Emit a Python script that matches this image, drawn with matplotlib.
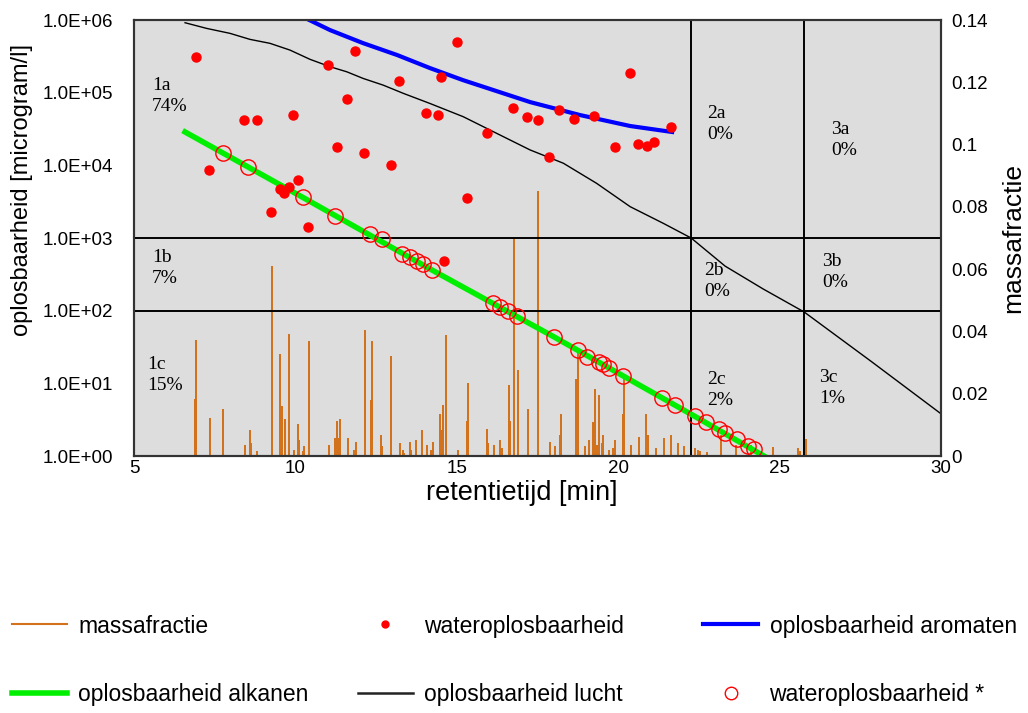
import matplotlib.pyplot as plt
from matplotlib.lines import Line2D

# massafractie: pieken in het chromatogram (retentietijd [min], fractie)
peak_time = [6.89, 6.92, 7.35, 7.76, 8.44, 8.59, 8.62, 8.81, 9.28, 9.52, 9.58, 9.68,
             9.80, 9.96, 10.08, 10.11, 10.24, 10.27, 10.42, 11.04, 11.23, 11.29, 11.32,
             11.38, 11.63, 11.82, 11.88, 12.16, 12.34, 12.37, 12.65, 12.68, 12.96, 13.24,
             13.33, 13.36, 13.55, 13.58, 13.74, 13.92, 14.08, 14.20, 14.26, 14.48, 14.51,
             14.57, 14.67, 15.04, 15.32, 15.35, 15.94, 15.97, 16.15, 16.34, 16.40, 16.62,
             16.65, 16.77, 16.90, 17.21, 17.52, 17.89, 18.04, 18.20, 18.23, 18.69, 18.75,
             18.97, 19.10, 19.22, 19.28, 19.34, 19.41, 19.50, 19.53, 19.71, 19.84, 19.90,
             20.15, 20.18, 20.40, 20.64, 20.86, 20.92, 21.17, 21.42, 21.64, 21.85, 22.04,
             22.38, 22.47, 22.53, 22.75, 23.18, 23.65, 24.11, 24.80, 25.57, 25.63, 25.82]
peak_frac = [0.018, 0.037, 0.012, 0.0148, 0.0032, 0.008, 0.0039, 0.0013, 0.0607, 0.0324,
             0.0157, 0.0116, 0.039, 0.0016, 0.010, 0.0048, 0.0013, 0.0029, 0.0366, 0.0032,
             0.0054, 0.011, 0.0054, 0.0116, 0.0054, 0.0016, 0.0042, 0.040, 0.0177, 0.0366,
             0.0064, 0.0029, 0.0318, 0.0039, 0.0016, 0.0006, 0.0042, 0.0016, 0.0048, 0.008,
             0.0032, 0.0016, 0.0042, 0.0132, 0.008, 0.0161, 0.0385, 0.0016, 0.011, 0.0231,
             0.0084, 0.0039, 0.0032, 0.0048, 0.0022, 0.0225, 0.011, 0.0694, 0.0273, 0.0148,
             0.0848, 0.0042, 0.0029, 0.0064, 0.0132, 0.0244, 0.0331, 0.0029, 0.0048, 0.0106,
             0.0212, 0.0032, 0.0193, 0.0039, 0.0064, 0.0016, 0.0022, 0.0048, 0.0132, 0.0244,
             0.0032, 0.0058, 0.0132, 0.0064, 0.0022, 0.0054, 0.0064, 0.0039, 0.0029, 0.0022,
             0.0016, 0.0012, 0.001, 0.0064, 0.0032, 0.0032, 0.0026, 0.0022, 0.0013, 0.0051]
frac_start = 6.58

# wateroplosbaarheid (gemeten)
water_time = [6.92, 7.32, 8.41, 8.81, 9.93, 9.24, 9.52, 9.65, 9.80, 10.08, 10.39, 11.01,
              11.29, 11.60, 11.85, 12.13, 12.96, 13.21, 14.05, 14.42, 14.51, 14.60, 15.01,
              15.32, 15.94, 16.74, 17.17, 17.52, 17.86, 18.17, 18.63, 19.25, 19.90, 20.37,
              20.61, 20.89, 21.11, 21.64]
water_sol = [3.1e5, 8.7e3, 4.2e4, 4.2e4, 4.9e4, 2.3e3, 4.7e3, 4.2e3, 5.0e3, 6.3e3, 1.4e3,
             2.4e5, 1.8e4, 8.1e4, 3.7e5, 1.5e4, 1.0e4, 1.45e5, 5.2e4, 4.9e4, 1.66e5, 480,
             5.0e5, 3.5e3, 2.75e4, 6.2e4, 4.6e4, 4.2e4, 1.3e4, 5.8e4, 4.4e4, 4.8e4, 1.8e4,
             1.86e5, 1.95e4, 1.86e4, 2.1e4, 3.4e4]

# wateroplosbaarheid * (alkanen)
star_time = [7.76, 8.53, 10.24, 11.23, 12.31, 12.68, 13.30, 13.55, 13.77, 13.95, 14.23,
             16.12, 16.34, 16.59, 16.86, 18.01, 18.75, 19.03, 19.41, 19.53, 19.72, 20.15,
             21.36, 21.76, 22.38, 22.72, 23.12, 23.31, 23.68, 24.02, 24.21]
star_sol = [14800, 9550, 3630, 2000, 1120, 980, 600, 550, 480, 440, 363, 129, 112, 100, 85,
            44, 29, 23, 19.5, 18.6, 16.2, 12.6, 6.3, 5.0, 3.5, 2.95, 2.34, 2.09, 1.70,
            1.38, 1.26]

# oplosbaarheid aromaten
arom_time = [10.39, 11.07, 12.09, 13.15, 14.17, 15.19, 17.27, 18.82, 20.37, 21.67]
arom_sol = [1.02e6, 7.28e5, 4.82e5, 3.30e5, 2.18e5, 1.49e5, 7.43e4, 4.92e4, 3.48e4, 2.88e4]

# oplosbaarheid alkanen
alk_time = [6.58, 10.24, 14.23, 18.01, 22.38, 24.55]
alk_sol = [2.88e4, 3.6e3, 363, 43.6, 3.5, 0.98]

# oplosbaarheid lucht
air_time = [6.58, 7.25, 7.97, 8.59, 9.21, 9.83, 10.45, 11.07, 11.59, 12.10, 12.72, 13.34,
            14.17, 15.20, 16.24, 17.27, 18.30, 19.33, 20.37, 21.40, 22.26, 23.31, 24.49,
            25.76, 27.86, 29.97]
air_sol = [9.18e5, 7.67e5, 6.56e5, 5.42e5, 4.78e5, 3.86e5, 2.88e5, 2.28e5, 1.94e5, 1.57e5,
           1.27e5, 9.8e4, 7.1e4, 4.67e4, 2.75e4, 1.63e4, 1.07e4, 5.66e3, 2.70e3, 1.59e3,
           1.0e3, 411, 199, 96, 19.7, 3.9]

# indeling in vakken
time_bounds = [22.26, 25.76]
sol_bounds = [1e3, 1e2]
region_names = ["1a", "1b", "1c", "2a", "2b", "2c", "3a", "3b", "3c"]
region_pct = ["74%", "7%", "15%", "0%", "0%", "2%", "0%", "0%", "1%"]
region_pos = [(0.022, 0.825), (0.022, 0.431), (0.016, 0.186),
              (0.710, 0.762), (0.706, 0.401), (0.710, 0.151),
              (0.864, 0.725), (0.853, 0.422), (0.849, 0.156)]

x_ticks = [5, 10, 15, 20, 25, 30]
y_ticks = [1, 10, 100, 1e3, 1e4, 1e5, 1e6]
y_labels = ["1.0E+00", "1.0E+01", "1.0E+02", "1.0E+03", "1.0E+04", "1.0E+05", "1.0E+06"]
frac_ticks = [0, 0.02, 0.04, 0.06, 0.08, 0.1, 0.12, 0.14]
frac_labels = ["0", "0.02", "0.04", "0.06", "0.08", "0.1", "0.12", "0.14"]

plt.rcParams["font.family"] = ["Liberation Sans", "DejaVu Sans"]

fig = plt.figure(figsize=(10.28, 7.13), dpi=100)
ax2 = fig.add_axes([0.1304, 0.3604, 0.785, 0.6115])
ax = ax2.twinx()
ax.yaxis.tick_left()
ax.yaxis.set_label_position("left")
ax2.yaxis.tick_right()
ax2.yaxis.set_label_position("right")
ax.patch.set_visible(False)
ax2.set_facecolor("#DDDDDD")

# massafractie als lijn met pieken
mx = [frac_start]
my = [0]
for t, f in zip(peak_time, peak_frac):
    mx += [t, t, t]
    my += [0, f, 0]
ax2.plot(mx, my, color="#D2721C", lw=1.2)
ax2.set_ylim(0, 0.14)
ax2.set_yticks(frac_ticks)
ax2.set_yticklabels(frac_labels)
ax2.set_ylabel("massafractie", fontsize=19, labelpad=10)

ax.set_yscale("log")
ax.set_xlim(5, 30)
ax.set_ylim(1, 1e6)
for b in sol_bounds:
    ax.axhline(b, color="black", lw=1.4)
for b in time_bounds:
    ax.axvline(b, color="black", lw=1.4)

ax.plot(air_time, air_sol, color="black", lw=1.0)
ax.plot(alk_time, alk_sol, color="#00EE00", lw=4)
ax.plot(arom_time, arom_sol, color="#0000FF", lw=3)
ax.plot(water_time, water_sol, "o", color="red", ms=6.5, mec="red")
ax.plot(star_time, star_sol, "o", mfc="none", mec="red", ms=11, mew=1.0)

for name, pct, pos in zip(region_names, region_pct, region_pos):
    ax.text(pos[0], pos[1], name + "\n" + pct, transform=ax.transAxes,
            family="Liberation Serif", fontsize=14, va="center", ha="left",
            linespacing=1.3)

ax.set_yticks(y_ticks)
ax.set_yticklabels(y_labels)
ax.minorticks_off()
ax2.set_xticks(x_ticks)
ax.tick_params(axis="y", length=0, labelsize=13.5, pad=15)
ax2.tick_params(axis="y", length=0, labelsize=13.5, pad=7)
ax2.tick_params(axis="x", length=0, labelsize=13.5, pad=3)
ax.set_ylabel("oplosbaarheid [microgram/l]", fontsize=17)
ax.yaxis.set_label_coords(-0.125, 0.61)
ax2.set_xlabel("retentietijd [min]", fontsize=19.5)
ax2.xaxis.set_label_coords(0.48, -0.056)

for a in (ax, ax2):
    for s in a.spines.values():
        s.set_color("#333333")
        s.set_linewidth(1.5)

# legenda: drie kolommen, twee rijen
entries = [
    (Line2D([], [], color="#D2721C", lw=1.5), "massafractie"),
    (Line2D([], [], ls="none", marker="o", color="red", ms=5), "wateroplosbaarheid"),
    (Line2D([], [], color="#0000FF", lw=3), "oplosbaarheid aromaten"),
    (Line2D([], [], color="#00EE00", lw=4), "oplosbaarheid alkanen"),
    (Line2D([], [], color="#222222", lw=1.8), "oplosbaarheid lucht"),
    (Line2D([], [], ls="none", marker="o", mfc="none", mec="red", ms=9, mew=1.0),
     "wateroplosbaarheid *"),
]
col_x = [0.0117, 0.3482, 0.6839]
row_y = [0.122, 0.0266]
for i, (h, lab) in enumerate(entries):
    fig.legend([h], [lab], loc="center left",
               bbox_to_anchor=(col_x[i % 3], row_y[i // 3]),
               frameon=False, fontsize=16.5, handlelength=2.4, handletextpad=0.5,
               borderpad=0, borderaxespad=0)

fig.savefig("out.png", dpi=100)
